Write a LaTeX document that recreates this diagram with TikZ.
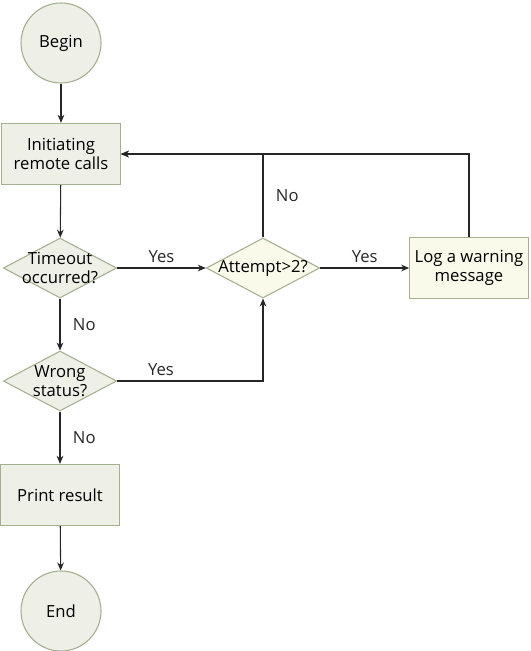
\documentclass[tikz,border=0pt]{standalone}
\usepackage{fontspec}
\setmainfont{Open Sans}
\usepackage{xcolor}
\usetikzlibrary{arrows.meta, positioning, calc}
\usetikzlibrary{shapes.geometric}

\definecolor{edgegreen}{HTML}{A3AF8E}
\definecolor{fillgreen}{HTML}{EEF0E8}
\definecolor{fillcream}{HTML}{FAFAEB}

\tikzset{
  startstop/.style={circle, draw=edgegreen, thick, fill=fillgreen, minimum size=60pt},
  procbox/.style={rectangle, draw=edgegreen, thick, fill=fillgreen, minimum width=89pt, minimum height=46pt, align=center},
  decide/.style={diamond, draw=edgegreen, thick, fill=fillgreen, minimum width=85pt, minimum height=45pt, aspect=1.9, inner sep=-3pt, align=center},
  flow/.style={-{Stealth[length=6pt,width=5pt]}, thick, black!85}
}

\begin{document}
\begin{tikzpicture}[x=0.75pt,y=-0.75pt,font=\fontsize{12.5}{14}\selectfont]

\useasboundingbox (0,0) rectangle (531,651);

% ------------------------
% Main column
% ------------------------
\node[startstop] (begin) at (61,43) {Begin};
\node[procbox] (init) at (61,154) {Initiating\\remote calls};
\node[decide] (timeout) at (60,268) {Timeout\\occurred?};
\node[decide] (wrong) at (60,381) {Wrong\\status?};
\node[procbox] (print) at (60,495) {Print result};
\node[startstop] (end) at (61,611) {End};

% ------------------------
% Retry branch
% ------------------------
\node[decide, fill=fillcream] (attempt) at (263,268) {Attempt>2?};
\node[procbox, fill=fillcream] (log) at (469,268) {Log a warning\\message};

% Corners of the feedback lines
\coordinate (wcorner) at (263,381);
\coordinate (acorner) at (263,154);
\coordinate (lcorner) at (469,154);

% ------------------------
% Connectors
% ------------------------
\draw[flow] (begin) -- (init);
\draw[flow] (init) -- (timeout);
\draw[flow] (timeout) -- node[right=6pt] {No} (wrong);
\draw[flow] (wrong) -- node[right=6pt] {No} (print);
\draw[flow] (print) -- (end);

\draw[flow] (timeout.east) -- node[above] {Yes} (attempt.west);
\draw[flow] (wrong.east) -- node[above, pos=0.3] {Yes} (wcorner) -- (attempt.south);
\draw[flow] (attempt.east) -- node[above] {Yes} (log.west);
\draw[flow] (attempt.north) -- node[right=6pt] {No} (acorner) -- (init.east);
\draw[flow] (log.north) -- (lcorner) -- (init.east);

\end{tikzpicture}
\end{document}
